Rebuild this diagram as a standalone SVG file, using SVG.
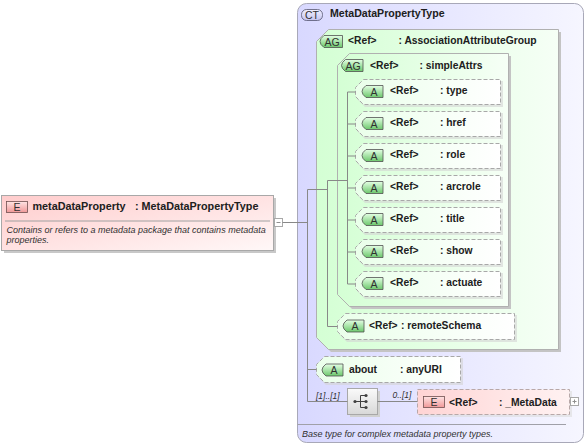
<svg xmlns="http://www.w3.org/2000/svg" width="588" height="447" viewBox="0 0 588 447">
<defs>
<linearGradient id="gCT" x1="0" y1="0" x2="1" y2="0"><stop offset="0" stop-color="#d8d8ff"/><stop offset="1" stop-color="#f6f6ff"/></linearGradient>
<linearGradient id="gAG" x1="0" y1="0" x2="1" y2="0"><stop offset="0" stop-color="#d4ffd4"/><stop offset="1" stop-color="#f6fff6"/></linearGradient>
<linearGradient id="gAtt" x1="0" y1="0" x2="1" y2="0"><stop offset="0" stop-color="#eaffea"/><stop offset="1" stop-color="#ffffff"/></linearGradient>
<linearGradient id="gEl" x1="0" y1="0" x2="1" y2="1"><stop offset="0" stop-color="#ffcccc"/><stop offset="1" stop-color="#fff8f8"/></linearGradient>
<linearGradient id="gElR" x1="0" y1="0" x2="1" y2="0"><stop offset="0" stop-color="#ffd4d4"/><stop offset="1" stop-color="#fff2f2"/></linearGradient>
<linearGradient id="gBadgeG" x1="0" y1="0" x2="0" y2="1"><stop offset="0" stop-color="#e4ffe4"/><stop offset="1" stop-color="#6cc86c"/></linearGradient>
<linearGradient id="gBadgeE" x1="0" y1="0" x2="0" y2="1"><stop offset="0" stop-color="#ffe4e4"/><stop offset="1" stop-color="#f09898"/></linearGradient>
<linearGradient id="gBadgeC" x1="0" y1="0" x2="0" y2="1"><stop offset="0" stop-color="#f0f0ff"/><stop offset="1" stop-color="#c4c4f0"/></linearGradient>
<linearGradient id="gSeq" x1="0" y1="0" x2="0" y2="1"><stop offset="0" stop-color="#fafafa"/><stop offset="1" stop-color="#d8d8d8"/></linearGradient>
<g id="badgeA">
<path d="M4,0 H21 V12 H4 Q0,9 0,6 Q0,3 4,0 Z" fill="url(#gBadgeG)" stroke="#505050" stroke-width="0.8"/>
<text x="12" y="10.3" class="bt">A</text>
</g>
</defs>
<style>
text{font-family:"Liberation Sans",Arial,sans-serif;fill:#202020}
.b{font-weight:bold;font-size:10.3px}
.bt{font-size:10.5px;text-anchor:middle;fill:#303030}
.d{font-style:italic;font-size:9px;fill:#303030}
.m{font-style:italic;font-size:8.5px;fill:#303030}
.att{fill:url(#gAtt);stroke:#a8a8a8;stroke-width:1;stroke-dasharray:4,2}
.sh{fill:#d4d4d4}
.ln{stroke:#888;stroke-width:1;fill:none}
</style>

<g id="ct-box">
<rect x="297.5" y="3.5" width="286" height="439" rx="9" fill="url(#gCT)" stroke="#a8a8b8"/>
<rect x="301.5" y="9.5" width="21" height="11" rx="5" fill="url(#gBadgeC)" stroke="#555570" stroke-width="0.8"/>
<text x="312" y="18.8" class="bt">CT</text>
<text x="330" y="17" class="b" style="font-size:10.6px">MetaDataPropertyType</text>
<line x1="297.5" y1="424.5" x2="566" y2="424.5" stroke="#a0a0a8"/>
<text x="302" y="436.5" class="d">Base type for complex metadata property types.</text>
</g>

<g id="ag-outer">
<path d="M331,32 H561 V352 H331 L319,340 V44 Z" fill="#c4c4c4"/>
<path d="M328.5,29.5 H558.5 V349.5 H328.5 L316.5,337.5 V41.5 Z" fill="url(#gAG)" stroke="#b0b0b0"/>
<path d="M324,35.5 H342.5 V47.5 H324 Q320,44.5 320,41.5 Q320,38.5 324,35.5 Z" fill="url(#gBadgeG)" stroke="#505050" stroke-width="0.8"/>
<text x="332" y="45.8" class="bt">AG</text>
<text x="348" y="43.5" class="b">&lt;Ref&gt;</text>
<text x="398.5" y="43.5" class="b">: AssociationAttributeGroup</text>
</g>

<g id="ag-simpleAttrs">
<path d="M352,56 H511 V309 H352 L340,297 V68 Z" fill="#c4c4c4"/>
<path d="M349.5,53.5 H508.5 V306.5 H349.5 L337.5,294.5 V65.5 Z" fill="url(#gAG)" stroke="#b0b0b0"/>
<path d="M345.5,59.5 H363 V71.5 H345.5 Q341.5,68.5 341.5,65.5 Q341.5,62.5 345.5,59.5 Z" fill="url(#gBadgeG)" stroke="#505050" stroke-width="0.8"/>
<text x="353" y="69.8" class="bt">AG</text>
<text x="370" y="68.5" class="b">&lt;Ref&gt;</text>
<text x="419.5" y="68.5" class="b">: simpleAttrs</text>
</g>

<g id="attr-type">
<path d="M365,81 H503 V107 H365 L357,99 V89 Z" class="sh" opacity="0.6"/>
<path d="M363.5,79.5 H500.5 V104.5 H363.5 L355.5,96.5 V87.5 Z" class="att"/>
<use href="#badgeA" x="362" y="85.5"/>
<text x="390" y="93.5" class="b">&lt;Ref&gt;</text>
<text x="440" y="93.5" class="b">: type</text>
</g>
<g id="attr-href">
<path d="M365,113 H503 V139 H365 L357,131 V121 Z" class="sh" opacity="0.6"/>
<path d="M363.5,111.5 H500.5 V136.5 H363.5 L355.5,128.5 V119.5 Z" class="att"/>
<use href="#badgeA" x="362" y="117.5"/>
<text x="390" y="125.5" class="b">&lt;Ref&gt;</text>
<text x="440" y="125.5" class="b">: href</text>
</g>
<g id="attr-role">
<path d="M365,145 H503 V171 H365 L357,163 V153 Z" class="sh" opacity="0.6"/>
<path d="M363.5,143.5 H500.5 V168.5 H363.5 L355.5,160.5 V151.5 Z" class="att"/>
<use href="#badgeA" x="362" y="149.5"/>
<text x="390" y="157.5" class="b">&lt;Ref&gt;</text>
<text x="440" y="157.5" class="b">: role</text>
</g>
<g id="attr-arcrole">
<path d="M365,177 H503 V203 H365 L357,195 V185 Z" class="sh" opacity="0.6"/>
<path d="M363.5,175.5 H500.5 V200.5 H363.5 L355.5,192.5 V183.5 Z" class="att"/>
<use href="#badgeA" x="362" y="181.5"/>
<text x="390" y="189.5" class="b">&lt;Ref&gt;</text>
<text x="440" y="189.5" class="b">: arcrole</text>
</g>
<g id="attr-title">
<path d="M365,209 H503 V235 H365 L357,227 V217 Z" class="sh" opacity="0.6"/>
<path d="M363.5,207.5 H500.5 V232.5 H363.5 L355.5,224.5 V215.5 Z" class="att"/>
<use href="#badgeA" x="362" y="213.5"/>
<text x="390" y="221.5" class="b">&lt;Ref&gt;</text>
<text x="440" y="221.5" class="b">: title</text>
</g>
<g id="attr-show">
<path d="M365,241 H503 V267 H365 L357,259 V249 Z" class="sh" opacity="0.6"/>
<path d="M363.5,239.5 H500.5 V264.5 H363.5 L355.5,256.5 V247.5 Z" class="att"/>
<use href="#badgeA" x="362" y="245.5"/>
<text x="390" y="253.5" class="b">&lt;Ref&gt;</text>
<text x="440" y="253.5" class="b">: show</text>
</g>
<g id="attr-actuate">
<path d="M365,273 H503 V299 H365 L357,291 V281 Z" class="sh" opacity="0.6"/>
<path d="M363.5,271.5 H500.5 V296.5 H363.5 L355.5,288.5 V279.5 Z" class="att"/>
<use href="#badgeA" x="362" y="277.5"/>
<text x="390" y="285.5" class="b">&lt;Ref&gt;</text>
<text x="440" y="285.5" class="b">: actuate</text>
</g>

<g id="attr-remoteSchema">
<path d="M347,315 H517 V342 H347 L339,334 V323 Z" class="sh" opacity="0.6"/>
<path d="M345.5,313.5 H514.5 V339.5 H345.5 L337.5,331.5 V321.5 Z" class="att"/>
<use href="#badgeA" x="343" y="320"/>
<text x="369" y="328.5" class="b">&lt;Ref&gt;</text>
<text x="401" y="328.5" class="b">: remoteSchema</text>
</g>

<g id="attr-about">
<path d="M326,358 H463 V385 H326 L318,377 V366 Z" class="sh" opacity="0.6"/>
<path d="M324.5,356.5 H460.5 V382.5 H324.5 L316.5,374.5 V364.5 Z" class="att"/>
<use href="#badgeA" x="322" y="364"/>
<text x="349" y="372.5" class="b">about</text>
<text x="400" y="372.5" class="b">: anyURI</text>
</g>

<g id="sequence">
<rect x="350" y="391" width="30" height="26" fill="#d0d0d0"/>
<rect x="347.5" y="388.5" width="30" height="26" fill="url(#gSeq)" stroke="#a8a8a8"/>
<circle cx="355" cy="401.5" r="1.6" fill="#404040"/>
<path d="M355,401.5 H360.5 M360.5,395.5 V407.5 M360.5,395.5 H366 M360.5,401.5 H366 M360.5,407.5 H366" stroke="#404040" stroke-width="1" fill="none"/>
<circle cx="366" cy="395.5" r="1.6" fill="#404040"/>
<circle cx="366" cy="401.5" r="1.6" fill="#404040"/>
<circle cx="366" cy="407.5" r="1.6" fill="#404040"/>
<text x="316" y="398.5" class="m">[1]..[1]</text>
</g>

<g id="el-MetaData">
<rect x="419" y="391" width="153" height="26" fill="#dcdcdc" opacity="0.6"/>
<rect x="417.5" y="389.5" width="152" height="25" fill="url(#gElR)" stroke="#b8a8a8" stroke-dasharray="4,2"/>
<rect x="423.5" y="396.5" width="21" height="11" fill="url(#gBadgeE)" stroke="#705050" stroke-width="0.8"/>
<text x="434" y="405.8" class="bt">E</text>
<text x="449" y="405.5" class="b">&lt;Ref&gt;</text>
<text x="499" y="405.5" class="b">: _MetaData</text>
<rect x="570.5" y="397.5" width="8" height="8" fill="#ffffff" stroke="#a8a8a8"/>
<path d="M572.5,401.5 H576.5 M574.5,399.5 V403.5" stroke="#909090"/>
<text x="392.5" y="397.5" class="m">0..[1]</text>
</g>

<g id="el-metaDataProperty">
<rect x="4" y="198" width="272" height="55" fill="#c8c8c8"/>
<rect x="1.5" y="195.5" width="272" height="55" fill="url(#gEl)" stroke="#a8a8a8"/>
<rect x="6.5" y="201.5" width="21" height="11" fill="url(#gBadgeE)" stroke="#705050" stroke-width="0.8"/>
<text x="17" y="210.8" class="bt">E</text>
<text x="32.5" y="209.5" class="b" style="font-size:10.8px">metaDataProperty</text>
<text x="135" y="209.5" class="b" style="font-size:10.8px">: MetaDataPropertyType</text>
<line x1="5" y1="221" x2="270" y2="221" stroke="#a0a0a0"/>
<text x="6.5" y="232.5" class="d">Contains or refers to a metadata package that contains metadata</text>
<text x="6.5" y="242.5" class="d">properties.</text>
<rect x="274.5" y="218.5" width="8" height="8" fill="#ffffff" stroke="#a8a8a8"/>
<path d="M276.5,222.5 H280.5" stroke="#909090"/>
</g>

<g id="connectors">
<path class="ln" d="M282.5,222.5 H307.5"/>
<path class="ln" d="M307.5,189.5 V401.5"/>
<path class="ln" d="M307.5,189.5 H327.5"/>
<path class="ln" d="M327.5,180.5 V326.5"/>
<path class="ln" d="M327.5,180.5 H347.5"/>
<path class="ln" d="M347.5,92 V284"/>
<path class="ln" d="M347.5,92 H355.5 M347.5,124 H355.5 M347.5,156 H355.5 M347.5,188 H355.5 M347.5,220 H355.5 M347.5,252 H355.5 M347.5,284 H355.5"/>
<path class="ln" d="M327.5,326.5 H337.5"/>
<path class="ln" d="M307.5,369.5 H316.5"/>
<path class="ln" d="M307.5,401.5 H347.5"/>
<path class="ln" d="M377.5,401.5 H417.5"/>
</g>
</svg>
